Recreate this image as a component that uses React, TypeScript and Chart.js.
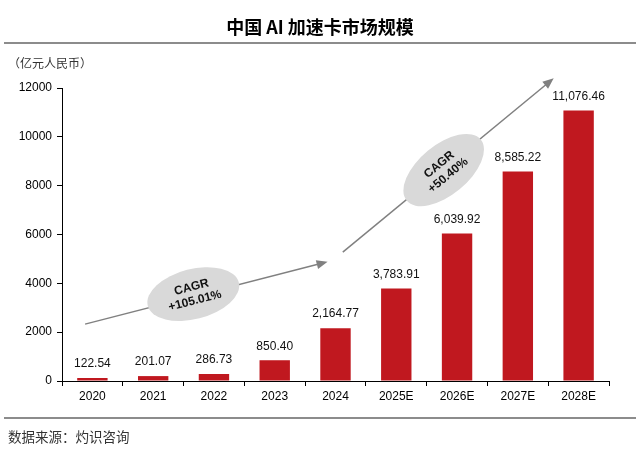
import { useEffect, useRef } from 'react';
import Chart from 'chart.js/auto';

const years = ['2020', '2021', '2022', '2023', '2024', '2025E', '2026E', '2027E', '2028E'];
const marketSize = [122.54, 201.07, 286.73, 850.4, 2164.77, 3783.91, 6039.92, 8585.22, 11076.46];
const yMax = 12000;
const yStep = 2000;

const title = '中国 AI 加速卡市场规模';
const unitLabel = '（亿元人民币）';
const sourceLabel = '数据来源：灼识咨询';

// CAGR call-outs, anchored in data units (category index, value)
const cagrText = [
    ['CAGR', '+105.01%'],
    ['CAGR', '+50.40%'],
];
const cagrArrows = [
    { from: [-0.12, 2330], to: [3.87, 4880], center: [1.66, 3560] },
    { from: [4.12, 5280], to: [7.59, 12400], center: [5.78, 8640] },
];

const sans = '"Liberation Sans", Arial, sans-serif';
const cjk = '"Noto Sans CJK SC", sans-serif';

const fmt = (v: number) =>
    v.toLocaleString('en-US', { minimumFractionDigits: 2, maximumFractionDigits: 2 });

const framePlugin = {
    id: 'frame',
    afterDraw(chart: any) {
        const { ctx, width } = chart;
        ctx.save();
        ctx.fillStyle = '#000';
        ctx.font = `bold 18px ${cjk}`;
        ctx.textAlign = 'center';
        ctx.textBaseline = 'middle';
        ctx.fillText(title, width / 2, 27);

        ctx.strokeStyle = '#8c8c8c';
        ctx.lineWidth = 2;
        ctx.beginPath();
        ctx.moveTo(4, 43);
        ctx.lineTo(width - 4, 43);
        ctx.moveTo(4, 418);
        ctx.lineTo(width - 4, 418);
        ctx.stroke();

        ctx.textAlign = 'left';
        ctx.fillStyle = '#333';
        ctx.font = `12px ${cjk}`;
        ctx.fillText(unitLabel, 8, 63);
        ctx.font = `13.5px ${cjk}`;
        ctx.fillText(sourceLabel, 8, 437);
        ctx.restore();
    },
};

const valueLabelPlugin = {
    id: 'valueLabels',
    afterDatasetsDraw(chart: any) {
        const { ctx } = chart;
        const meta = chart.getDatasetMeta(0);
        ctx.save();
        ctx.fillStyle = '#111';
        ctx.font = `12px ${sans}`;
        ctx.textAlign = 'center';
        ctx.textBaseline = 'middle';
        meta.data.forEach((bar: any, i: number) => {
            ctx.fillText(fmt(marketSize[i]), bar.x, bar.y - 14);
        });
        ctx.restore();
    },
};

const cagrPlugin = {
    id: 'cagr',
    afterDraw(chart: any) {
        const { ctx } = chart;
        const x = chart.scales.x;
        const y = chart.scales.y;
        const px = (p: number[]) => [x.getPixelForValue(p[0]), y.getPixelForValue(p[1])];
        cagrArrows.forEach((a, i) => {
            const [x0, y0] = px(a.from);
            const [x1, y1] = px(a.to);
            const [cx, cy] = px(a.center);
            const ang = Math.atan2(y1 - y0, x1 - x0);

            ctx.save();
            ctx.strokeStyle = '#808080';
            ctx.fillStyle = '#808080';
            ctx.lineWidth = 1.5;
            ctx.beginPath();
            ctx.moveTo(x0, y0);
            ctx.lineTo(x1 - 9 * Math.cos(ang), y1 - 9 * Math.sin(ang));
            ctx.stroke();
            ctx.beginPath();
            ctx.moveTo(x1, y1);
            ctx.lineTo(x1 - 11 * Math.cos(ang) + 4.5 * Math.sin(ang), y1 - 11 * Math.sin(ang) - 4.5 * Math.cos(ang));
            ctx.lineTo(x1 - 11 * Math.cos(ang) - 4.5 * Math.sin(ang), y1 - 11 * Math.sin(ang) + 4.5 * Math.cos(ang));
            ctx.closePath();
            ctx.fill();

            const semiA = i === 0 ? 47 : 48;
            const semiB = 25;
            ctx.fillStyle = '#d9d9d9';
            ctx.beginPath();
            ctx.ellipse(cx, cy, semiA, semiB, ang, 0, Math.PI * 2);
            ctx.fill();

            ctx.translate(cx, cy);
            ctx.rotate(ang);
            ctx.fillStyle = '#111';
            ctx.font = `bold 12px ${sans}`;
            ctx.textAlign = 'center';
            ctx.textBaseline = 'middle';
            ctx.fillText(cagrText[i][0], 0, -7);
            ctx.fillText(cagrText[i][1], 0, 7);
            ctx.restore();
        });
    },
};

const App = () => {
    const canvas = useRef<HTMLCanvasElement>(null);

    useEffect(() => {
        const chart = new Chart(
            // @ts-expect-error
            canvas.current,
            {
                type: 'bar',
                data: {
                    labels: years,
                    datasets: [
                        {
                            data: marketSize,
                            backgroundColor: '#c0181f',
                            categoryPercentage: 1,
                            barPercentage: 0.5,
                        },
                    ],
                },
                options: {
                    animation: false,
                    responsive: true,
                    maintainAspectRatio: false,
                    layout: { padding: { top: 88, right: 31, left: 0, bottom: 0 } },
                    plugins: {
                        legend: { display: false },
                        tooltip: { enabled: false },
                    },
                    scales: {
                        x: {
                            afterFit: (s: any) => { s.height = 68; },
                            grid: { drawOnChartArea: false, tickLength: 5, color: '#000' },
                            border: { color: '#000', width: 1 },
                            ticks: { color: '#000', padding: 3, font: { size: 12, family: sans } },
                        },
                        y: {
                            min: 0,
                            max: yMax,
                            afterFit: (s: any) => { s.width = 62; },
                            grid: { drawOnChartArea: false, tickLength: 5, color: '#000' },
                            border: { color: '#000', width: 1 },
                            ticks: {
                                stepSize: yStep,
                                color: '#000',
                                padding: 5,
                                font: { size: 12, family: sans },
                                callback: (v: any) => String(v),
                            },
                        },
                    },
                },
                plugins: [framePlugin, valueLabelPlugin, cagrPlugin],
            }
        );
        return () => {
            chart.destroy();
        };
    }, []);

    return (
        <div style={{ position: 'absolute', left: 0, top: 0, width: 640, height: 449, background: '#fff' }}>
            <canvas ref={canvas} aria-label={title} role="img"></canvas>
        </div>
    );
};

export default App;
